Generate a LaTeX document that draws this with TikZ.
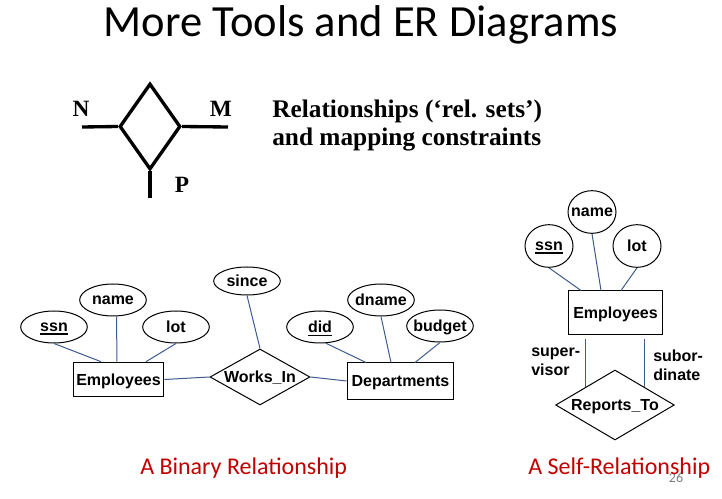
\documentclass[tikz,border=0pt]{standalone}
\usepackage{fontspec}
\setmainfont{Liberation Sans}
\newfontfamily\slidefont{Carlito}
\newfontfamily\timesfont{Liberation Serif}
\usetikzlibrary{shapes.geometric,calc}
\definecolor{linkblue}{RGB}{60,92,140}
\definecolor{slidered}{RGB}{192,0,0}
\newcommand{\ukey}[1]{\setbox0\hbox{#1}\rlap{\smash{\rule[-2.6pt]{\wd0}{1.3pt}}}\box0}

\begin{document}
\begin{tikzpicture}
                [
                    x=0.75pt,y=-0.75pt,
                    attr/.style={ellipse,draw=black,line width=0.75pt,inner xsep=-3.5pt,inner ysep=0pt,text depth=0pt,
                        minimum width=50pt,minimum height=24pt,font=\fontsize{12}{14}\selectfont\bfseries},
                    circ/.style={attr,minimum width=36pt,minimum height=32pt},
                    entity/.style={rectangle,draw=black,line width=0.75pt,inner sep=0pt,text depth=0pt,
                        font=\fontsize{12}{14}\selectfont\bfseries},
                    rel/.style={diamond,draw=black,line width=0.75pt,inner sep=0pt,text depth=0pt,
                        font=\fontsize{12}{14}\selectfont\bfseries},
                    link/.style={draw=linkblue,line width=0.75pt},
                    heavy/.style={draw=black,line width=2.5pt},
                    serif/.style={font=\fontsize{17.5}{21}\selectfont\timesfont\bfseries},
                    caption/.style={anchor=base west,text=slidered,inner sep=0pt,font=\fontsize{18}{22}\selectfont\slidefont},
                    role/.style={anchor=base west,align=left,inner sep=0pt,font=\fontsize{12}{13.5}\selectfont\bfseries},
                ]
                \useasboundingbox (0,0) rectangle (722,499);
                \node[anchor=base,inner sep=0pt,font=\fontsize{33.4}{40}\selectfont\slidefont] (title) at (361,37)
                    {More Tools and ER Diagrams};

                \node[diamond,heavy,inner sep=0pt,minimum width=45.75pt,minimum height=64.5pt] (mapdia) at (150,126.5) {};
                \coordinate (nend) at (82,127);
                \coordinate (mend) at (228,127);
                \coordinate (pend) at (150,198);
                \draw[heavy] (nend) -- (mapdia.west);
                \draw[heavy] (mapdia.east) -- (mend);
                \draw[heavy] (mapdia.south) -- (pend);
                \node[serif,anchor=base,inner sep=0pt] (nlab) at (81,117) {N};
                \node[serif,anchor=base,inner sep=0pt] (mlab) at (221,117) {M};
                \node[serif,anchor=base,inner sep=0pt] (plab) at (182,193) {P};
                \node[serif,anchor=base west,align=left,inner sep=0pt,font=\fontsize{19}{21}\selectfont\timesfont\bfseries]
                    (relnote) at (272,146) {Relationships (‘rel. sets’)\\and mapping constraints};

                \node[attr] (ssn) at (54,327) {\ukey{ssn}};
                \node[attr] (name) at (113,300) {name};
                \node[attr] (lot) at (176,327) {lot};
                \node[attr,minimum height=21pt] (since) at (247,281) {since};
                \node[attr] (did) at (320,327) {\ukey{did}};
                \node[attr] (dname) at (381,300) {dname};
                \node[attr] (budget) at (440,326) {budget};
                \node[entity,minimum width=68pt,minimum height=26pt] (emp) at (118.5,379.5) {Employees};
                \node[rel,aspect=1.8,minimum width=75pt,minimum height=42pt] (works) at (260,377) {Works\_In};
                \node[entity,minimum width=80pt,minimum height=27pt] (dept) at (400.5,381) {Departments};
                \draw[link] (ssn.south) -- ($(emp.north)+(-17.5,0)$);
                \draw[link] ($(name.south)+(3.5,0)$) -- ($(emp.north)+(-1.5,0)$);
                \draw[link] (lot.south) -- ($(emp.north)+(27.5,0)$);
                \draw[link] (emp.east) -- (works.west);
                \draw[link] (works.east) -- (dept.west);
                \draw[link] (since.south) -- (works.north);
                \draw[link] (did.-70) -- ($(dept.north)+(-34.5,0)$);
                \draw[link] (dname.south) -- ($(dept.north)+(-9.5,0)$);
                \draw[link] (budget.south) -- ($(dept.north)+(14.5,0)$);

                \node[circ] (ssn2) at (549,246) {\ukey{ssn}};
                \node[circ] (name2) at (592,212) {name};
                \node[circ] (lot2) at (637,246) {lot};
                \node[entity,minimum width=71pt,minimum height=33pt] (emp2) at (615.5,313) {Employees};
                \node[rel,aspect=1.7,minimum width=89pt,minimum height=52.5pt] (rep) at (615,405) {Reports\_To};
                \draw[link] (ssn2.south) -- ($(emp2.north)+(-34.5,0)$);
                \draw[link] (name2.south) -- ($(emp2.north)+(-14.5,0)$);
                \draw[link] (lot2.south) -- ($(emp2.north)+(5.5,0)$);
                \draw[link] ([yshift=-3pt]emp2.south -| rep.north west) -- (rep.north west);
                \draw[link] ([yshift=-3pt]emp2.south -| rep.north east) -- (rep.north east);
                \node[role] (super) at (531,375) {super-\\visor};
                \node[role] (subor) at (653,380) {subor-\\dinate};

                \node[inner sep=0pt,text=gray,font=\fontsize{10.5}{12}\selectfont\slidefont] (pagenum) at (676,478) {26};
                \node[caption] (bincap) at (140,474) {A Binary Relationship};
                \node[caption] (selfcap) at (528,474) {A Self-Relationship};
            \end{tikzpicture}
\end{document}
